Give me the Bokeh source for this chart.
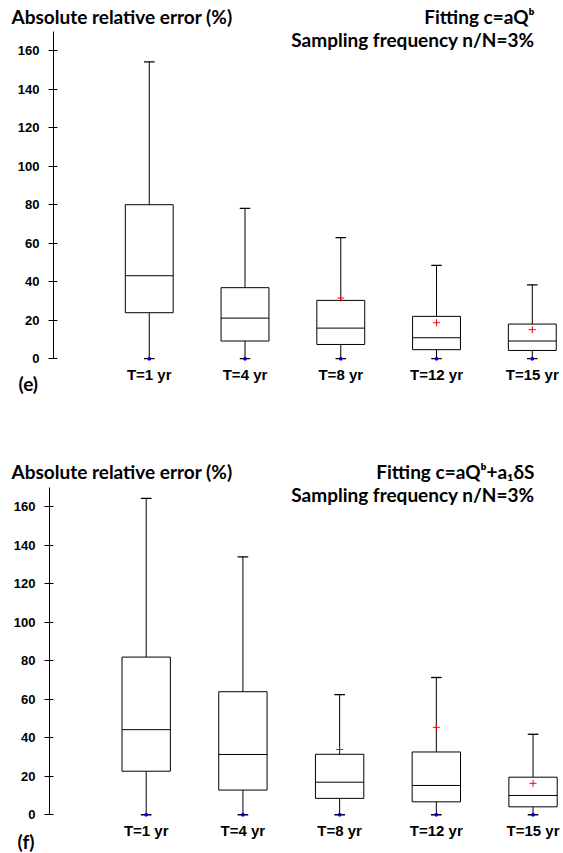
from bokeh.plotting import figure
from bokeh.models import Range1d, FixedTicker, Label, ColumnDataSource, Title
from bokeh.layouts import column
from bokeh.embed import file_html
from bokeh.resources import INLINE

categories = ["T=1 yr", "T=4 yr", "T=8 yr", "T=12 yr", "T=15 yr"]
y_ticks = [0, 20, 40, 60, 80, 100, 120, 140, 160]
nan = float("nan")

# Panel (e): Fitting c=aQ^b
e_min = [0, 0, 0, 0, 0]
e_q1 = [23.9, 9.2, 7.4, 4.7, 4.3]
e_med = [43.1, 21.1, 15.9, 10.9, 9.2]
e_q3 = [80.0, 36.9, 30.3, 22.0, 18.0]
e_max = [154.2, 78.1, 62.9, 48.5, 38.4]
e_mean = [nan, nan, 31.5, 18.7, 15.1]

# Panel (f): Fitting c=aQ^b+a1 dS
f_min = [0, 0, 0, 0, 0]
f_q1 = [22.6, 12.8, 8.5, 6.7, 4.1]
f_med = [44.2, 31.3, 16.9, 15.2, 10.0]
f_q3 = [81.9, 63.9, 31.4, 32.6, 19.5]
f_max = [164.4, 134.0, 62.4, 71.3, 41.8]
f_mean = [nan, nan, 33.9, 45.4, 16.3]

HEAD_FONT = "Lato"
HEAD_SIZE = "19px"
NUM_FONT = "Liberation Sans"
W = 563


def head_style():
    return dict(text_font=HEAD_FONT, text_font_style="bold",
                text_font_size=HEAD_SIZE, text_color="black")


def header(fit_text, height=27):
    h = figure(width=W, height=height, output_backend="svg", toolbar_location=None,
               x_range=Range1d(0, W), y_range=Range1d(height, 0),
               x_axis_type=None, y_axis_type=None, frame_align=False,
               min_border_left=0, min_border_right=0, min_border_top=0, min_border_bottom=0)
    h.outline_line_color = None
    h.grid.visible = False
    h.add_layout(Label(x=11, y=15.7, text="Absolute relative error (%)",
                       text_align="left", text_baseline="middle", **head_style()))
    h.add_layout(Label(x=534, y=15.7, text=fit_text,
                       text_align="right", text_baseline="middle", **head_style()))
    return h


def make_panel(mins, q1, med, q3, maxs, means, panel_tag, height, border_left,
               frame_h, x_end, y_top, samp_x, samp_y, tag_offset, tag_standoff):
    xs = list(range(1, len(categories) + 1))
    src = ColumnDataSource(dict(
        x=xs, mn=mins, q1=q1, med=med, q3=q3, mx=maxs, mean=means,
        xl=[x - 0.25 for x in xs], xr=[x + 0.25 for x in xs],
        cl=[x - 0.055 for x in xs], cr=[x + 0.055 for x in xs],
    ))
    p = figure(width=W, height=height, output_backend="svg",
               toolbar_location=None, x_range=Range1d(0, x_end),
               y_range=Range1d(-3, y_top), min_border_left=border_left,
               min_border_right=0, min_border_top=0, frame_align=False,
               min_border_bottom=height - frame_h)
    p.title = None
    p.outline_line_color = None
    p.grid.visible = False

    ya = p.yaxis[0]
    ya.ticker = FixedTicker(ticks=y_ticks)
    ya.bounds = (0, 170)
    ya.minor_tick_line_color = None
    ya.major_tick_out = 5
    ya.major_tick_in = 4
    ya.major_label_standoff = 9
    ya.major_label_text_font = NUM_FONT
    ya.major_label_text_font_style = "bold"
    ya.major_label_text_font_size = "13px"
    ya.major_label_text_color = "black"
    ya.axis_line_color = "black"
    ya.major_tick_line_color = "black"

    xa = p.xaxis[0]
    xa.ticker = FixedTicker(ticks=xs)
    xa.major_label_overrides = {x: c for x, c in zip(xs, categories)}
    xa.axis_line_color = None
    xa.major_tick_line_color = None
    xa.minor_tick_line_color = None
    xa.major_tick_out = 0
    xa.major_tick_in = 0
    xa.major_label_standoff = 1
    xa.major_label_text_font = NUM_FONT
    xa.major_label_text_font_style = "bold"
    xa.major_label_text_font_size = "15px"
    xa.major_label_text_color = "black"

    # whiskers and caps
    p.segment(x0="x", y0="q3", x1="x", y1="mx", source=src, line_color="black", line_width=1)
    p.segment(x0="x", y0="q1", x1="x", y1="mn", source=src, line_color="black", line_width=1)
    p.segment(x0="cl", y0="mx", x1="cr", y1="mx", source=src, line_color="black", line_width=1.3)
    p.segment(x0="cl", y0="mn", x1="cr", y1="mn", source=src, line_color="black", line_width=1.3)
    # boxes and medians
    p.vbar(x="x", width=0.5, bottom="q1", top="q3", source=src,
           fill_color="white", line_color="black", line_width=1)
    p.segment(x0="xl", y0="med", x1="xr", y1="med", source=src, line_color="black", line_width=1)
    # mean (+) and minimum markers
    p.scatter(x="x", y="mean", source=src, marker="cross", size=7,
              line_color="red", line_width=1)
    p.scatter(x="x", y="mn", source=src, marker="circle", size=3,
              line_color="blue", fill_color="blue")

    p.add_layout(Label(x=samp_x, y=samp_y, text="Sampling frequency n/N=3%",
                       text_align="right", text_baseline="middle", **head_style()))
    p.add_layout(Title(text=panel_tag, align="left", vertical_align="top",
                       offset=tag_offset, standoff=tag_standoff, **head_style()), "below")
    return p


h1 = header("Fitting c=aQ\u1d47")
p1 = make_panel(e_min, e_q1, e_med, e_q3, e_max, e_mean, "(e)",
                height=428, border_left=53, frame_h=337, x_end=5.326, y_top=172.05,
                samp_x=5.024, samp_y=166.0, tag_offset=-35, tag_standoff=-28)
h2 = header("Fitting c=aQ\u1d47+a\u2081\u03b4S")
p2 = make_panel(f_min, f_q1, f_med, f_q3, f_max, f_mean, "(f)",
                height=371, border_left=49, frame_h=338, x_end=5.315, y_top=172.6,
                samp_x=5.016, samp_y=166.6, tag_offset=-32, tag_standoff=-24)

layout = column(h1, p1, h2, p2, spacing=0)
open("out.html", "w").write(file_html(layout, INLINE))
